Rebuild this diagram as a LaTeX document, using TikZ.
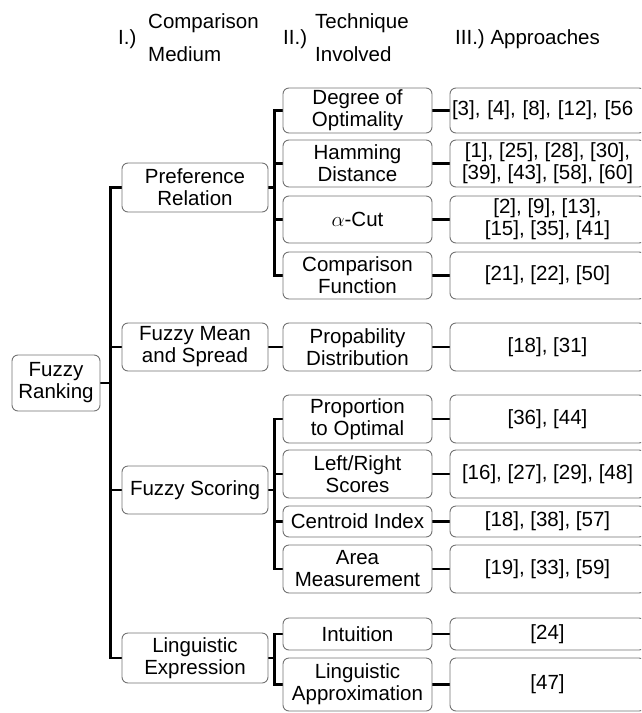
\documentclass[tikz,border=0pt]{standalone}
\usepackage{fontspec}
\setmainfont{Liberation Sans}
\usetikzlibrary{backgrounds}
\begin{document}
\begin{tikzpicture}[x=1pt,y=-1pt,
  box/.style={draw=black!55, line width=0.9pt, rounded corners=6pt, fill=white,
    align=center, inner sep=0pt, font=\fontsize{20.5}{22}\selectfont},
  lvone/.style={box, minimum width=146pt},
  lvtwo/.style={box, minimum width=149pt},
  lvthree/.style={box, minimum width=195pt},
  conn/.style={line width=2.6pt, black, line cap=rect},
  hdr/.style={align=left, inner sep=0pt, anchor=west, font=\fontsize{20.5}{33}\selectfont}]
\path[use as bounding box, clip] (0,0) rectangle (641,713);

% header
\node[hdr] (h1) at (118,39) {I.)};
\node[hdr] (h1t) at (148,38) {Comparison\\Medium};
\node[hdr] (h2) at (283,39) {II.)};
\node[hdr] (h2t) at (315,38) {Technique\\Involved};
\node[hdr] (h3) at (455,39) {III.) Approaches};

% root
\node[box, minimum width=88pt, minimum height=56pt] (root) at (56,383) {Fuzzy\\Ranking};

% level one
\node[lvone, minimum height=49pt] (pref) at (195,187.5) {Preference\\Relation};
\node[lvone, minimum height=48pt] (mean) at (195,347) {Fuzzy Mean\\and Spread};
\node[lvone, minimum height=48pt] (scor) at (195,490) {Fuzzy Scoring};
\node[lvone, minimum height=50pt] (ling) at (195,658) {Linguistic\\Expression};

% level two
\node[lvtwo, minimum height=45pt] (deg) at (357.5,110.5) {Degree of\\Optimality};
\node[lvtwo, minimum height=47pt] (ham) at (357.5,163.5) {Hamming\\Distance};
\node[lvtwo, minimum height=47pt] (acut) at (357.5,219.5) {$\alpha$-Cut};
\node[lvtwo, minimum height=47pt] (cmpf) at (357.5,275.5) {Comparison\\Function};
\node[lvtwo, minimum height=48pt] (prob) at (357.5,347) {Propability\\Distribution};
\node[lvtwo, minimum height=48pt] (prop) at (357.5,419) {Proportion\\to Optimal};
\node[lvtwo, minimum height=48pt] (lrs) at (357.5,474) {Left/Right\\Scores};
\node[lvtwo, minimum height=31pt] (cent) at (357.5,521.5) {Centroid Index};
\node[lvtwo, minimum height=48pt] (area) at (357.5,569) {Area\\Measurement};
\node[lvtwo, minimum height=32pt] (intu) at (357.5,634) {Intuition};
\node[lvtwo, minimum height=53pt] (lapx) at (357.5,684.5) {Linguistic\\Approximation};

% level three
\node[lvthree, minimum height=45pt, align=left, text width=191pt, inner xsep=2pt] (deg3) at (547.5,110.5) {[3], [4], [8], [12], [56};
\node[lvthree, minimum height=47pt] (ham3) at (547.5,163.5) {[1], [25], [28], [30],\\\relax [39], [43], [58], [60]};
\node[lvthree, minimum height=47pt] (acut3) at (547.5,219.5) {[2], [9], [13],\\\relax [15], [35], [41]};
\node[lvthree, minimum height=47pt] (cmpf3) at (547.5,275.5) {[21], [22], [50]};
\node[lvthree, minimum height=48pt] (prob3) at (547.5,347) {[18], [31]};
\node[lvthree, minimum height=48pt] (prop3) at (547.5,419) {[36], [44]};
\node[lvthree, minimum height=48pt] (lrs3) at (547.5,474) {[16], [27], [29], [48]};
\node[lvthree, minimum height=31pt] (cent3) at (547.5,521.5) {[18], [38], [57]};
\node[lvthree, minimum height=48pt] (area3) at (547.5,569) {[19], [33], [59]};
\node[lvthree, minimum height=32pt] (intu3) at (547.5,634) {[24]};
\node[lvthree, minimum height=53pt] (lapx3) at (547.5,684.5) {[47]};

\begin{scope}[on background layer]
  % root trunk
  \coordinate (t0) at ([xshift=10pt]root.east);
  \draw[conn] (root.east) -- (t0);
  \draw[conn] (t0 |- pref.west) -- (t0 |- ling.west);
  \foreach \n in {pref,mean,scor,ling} \draw[conn] (t0 |- \n.west) -- (\n.west);
  % preference relation
  \coordinate (t1) at ([xshift=6pt]pref.east);
  \draw[conn] (pref.east) -- (t1);
  \draw[conn] (t1 |- deg.west) -- (t1 |- cmpf.west);
  \foreach \n in {deg,ham,acut,cmpf} \draw[conn] (t1 |- \n.west) -- (\n.west);
  % fuzzy mean
  \draw[conn] (mean.east) -- (prob.west);
  % fuzzy scoring
  \coordinate (t2) at ([xshift=6pt]scor.east);
  \draw[conn] (scor.east) -- (t2);
  \draw[conn] (t2 |- prop.west) -- (t2 |- area.west);
  \foreach \n in {prop,lrs,cent,area} \draw[conn] (t2 |- \n.west) -- (\n.west);
  % linguistic
  \coordinate (t3) at ([xshift=6pt]ling.east);
  \draw[conn] (ling.east) -- (t3);
  \draw[conn] (t3 |- intu.west) -- (t3 |- lapx.west);
  \foreach \n in {intu,lapx} \draw[conn] (t3 |- \n.west) -- (\n.west);
  % level two to three
  \foreach \n in {deg,ham,acut,cmpf,prob,prop,lrs,cent,area,intu,lapx}
    \draw[conn] (\n.east) -- (\n3.west);
\end{scope}
\end{tikzpicture}
\end{document}
